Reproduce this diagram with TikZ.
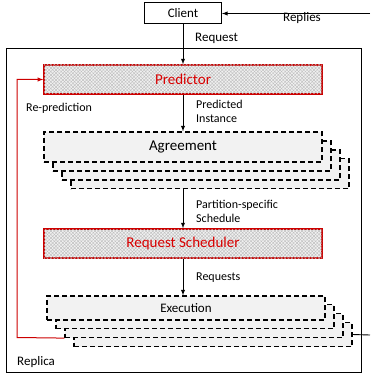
\documentclass[tikz,border=0pt]{standalone}
\usepackage{fontspec}
\setmainfont{Carlito}
\usetikzlibrary{patterns.meta}

\begin{document}
\begin{tikzpicture}
    [
    x=1pt,y=-1pt,
    stage/.style={draw,line width=1.2pt,dash pattern=on 5pt off 3pt,fill=gray!10,minimum width=278pt,minimum height=30pt,inner sep=0pt,font=\fontsize{15}{18}\selectfont},
    hot/.style={draw=red!80!black,line width=1.4pt,fill=gray!12,postaction={pattern={Lines[angle=45,distance=2.4pt,line width=0.35pt]},pattern color=gray!55},postaction={pattern={Lines[angle=-45,distance=2.4pt,line width=0.35pt]},pattern color=gray!55},minimum width=278pt,minimum height=29pt,inner sep=0pt,text=red!85!black,font=\fontsize{15}{18}\selectfont},
    lbl/.style={font=\fontsize{12}{14}\selectfont,align=left,anchor=west,inner sep=0pt},
    ]
    \useasboundingbox (0,0) rectangle (370,377);
    \draw [line width=0.9pt] (6,48) rectangle (361,372);
    \node (client) at (183,13.5) [draw,line width=1pt,minimum width=77pt,minimum height=21pt,inner sep=0pt,font=\fontsize{13}{15}\selectfont] {Client};
    \node (predictor) at (183,79.5) [hot] {Predictor};
    \node (agree4) at (210,173.5) [stage] {};
    \node (agree3) at (201,165) [stage] {};
    \node (agree2) at (192,156) [stage] {};
    \node (agree1) at (183,147) [stage] {Agreement};
    \node (sched) at (183,243.5) [hot] {Request Scheduler};
    \node (exec4) at (213,334.5) [stage,minimum height=24pt] {};
    \node (exec3) at (204,325.5) [stage,minimum height=24pt] {};
    \node (exec2) at (195,316.5) [stage,minimum height=24pt] {};
    \node (exec1) at (186,308) [stage,minimum height=24pt,font=\fontsize{13}{15}\selectfont] {Execution};
    \coordinate (replyin) at (370,13.5);
    \coordinate (replyout) at (370,335);
    \coordinate (loop) at (17,337.5);
    \draw [-latex,line width=0.9pt] (replyin) to (client.east);
    \draw [-latex,line width=0.9pt] (client) to (predictor);
    \draw [-latex,line width=0.9pt] (predictor) to (agree1);
    \draw [-latex,line width=0.9pt] (agree4.south -| sched.north) to (sched.north);
    \draw [-latex,line width=0.9pt] (sched.south) to (sched.south |- exec1.north);
    \draw [line width=0.9pt] (exec4.east) to (replyout);
    \draw [-latex,red!80!black,line width=1pt] (exec3.south west) to (loop) |- (predictor.west);
    \node at (302,18) [font=\fontsize{13}{15}\selectfont] {Replies};
    \node at (195,38) [lbl,font=\fontsize{13}{15}\selectfont] {Request};
    \node at (26,108) [lbl] {Re-prediction};
    \node at (196,111) [lbl] {Predicted\\Instance};
    \node at (196,211) [lbl] {Partition-specific\\Schedule};
    \node at (196,278) [lbl] {Requests};
    \node at (17,362) [lbl,font=\fontsize{13}{15}\selectfont] {Replica};
  \end{tikzpicture}
\end{document}
